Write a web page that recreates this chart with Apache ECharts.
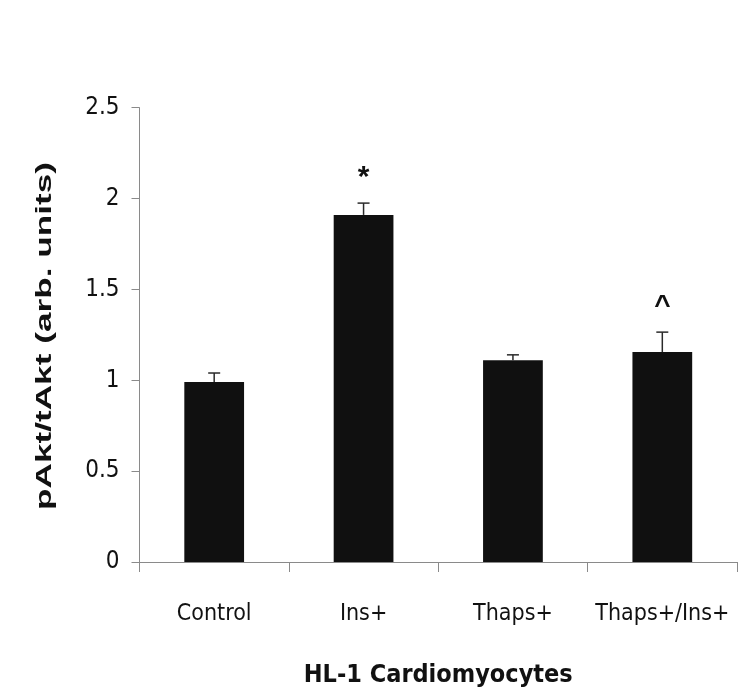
<!DOCTYPE html>
<html>
<head>
<meta charset="utf-8">
<script src="https://cdn.jsdelivr.net/npm/echarts@6/dist/echarts.min.js"></script>
<style>
  html, body { margin: 0; padding: 0; background: #ffffff; }
  #chart { width: 739px; height: 693px; }
</style>
</head>
<body>
<div id="chart"></div>
<script>
// pAkt/tAkt ratio in HL-1 cardiomyocytes, mean with upper SEM bar
const categories = ['Control', 'Ins+', 'Thaps+', 'Thaps+/Ins+'];
const means = [0.99, 1.91, 1.11, 1.155];
const errors = [0.05, 0.065, 0.03, 0.11];
const marks = ['', '*', '', '^'];
const yMin = 0;
const yMax = 2.5;
const yStep = 0.5;

const narrow = "'Liberation Sans Narrow', 'DejaVu Sans Condensed', 'Liberation Sans', sans-serif";
const ink = '#111111';

const chart = echarts.init(document.getElementById('chart'), null, { renderer: 'canvas' });

chart.setOption({
  backgroundColor: '#ffffff',
  animation: false,
  grid: { left: 139.5, right: 2, top: 107.7, bottom: 124.3, containLabel: false },
  xAxis: {
    type: 'category',
    data: categories,
    boundaryGap: true,
    axisLine: { show: true, lineStyle: { color: '#8a8a8a', width: 1 } },
    axisTick: { show: true, interval: 0, length: 10, lineStyle: { color: '#8a8a8a', width: 1 } },
    axisLabel: { interval: 0, color: ink, fontFamily: narrow, fontSize: 23, margin: 41 },
    name: 'HL-1 Cardiomyocytes',
    nameLocation: 'middle',
    nameGap: 101,
    nameTextStyle: { color: ink, fontFamily: narrow, fontWeight: 'bold', fontSize: 25 }
  },
  yAxis: {
    type: 'value',
    min: yMin,
    max: yMax,
    interval: yStep,
    splitLine: { show: false },
    axisLine: { show: true, lineStyle: { color: '#8a8a8a', width: 1 } },
    axisTick: { show: true, length: 8, lineStyle: { color: '#8a8a8a', width: 1 } },
    axisLabel: { color: ink, fontFamily: narrow, fontSize: 24, margin: 20 }
  },
  graphic: [{
    type: 'text',
    x: 45,
    y: 336,
    rotation: Math.PI / 2,
    scaleX: 1.6,
    style: {
      text: 'pAkt/tAkt (arb. units)',
      font: "bold 22px 'Liberation Sans', Arial, sans-serif",
      fill: ink,
      textAlign: 'center',
      textVerticalAlign: 'middle'
    }
  }],
  series: [
    {
      type: 'bar',
      data: means,
      barWidth: '40%',
      itemStyle: { color: '#101010' },
      z: 2
    },
    {
      type: 'custom',
      z: 3,
      data: categories.map((c, i) => [i, means[i], errors[i]]),
      renderItem: function (params, api) {
        const i = api.value(0);
        const base = api.coord([i, api.value(1)]);
        const top = api.coord([i, api.value(1) + api.value(2)]);
        const cap = 6;
        const children = [
          { type: 'line', shape: { x1: base[0], y1: base[1], x2: top[0], y2: top[1] },
            style: { stroke: '#2a2a2a', lineWidth: 1.5 } },
          { type: 'line', shape: { x1: top[0] - cap, y1: top[1], x2: top[0] + cap, y2: top[1] },
            style: { stroke: '#2a2a2a', lineWidth: 1.5 } }
        ];
        const m = marks[params.dataIndex];
        if (m) {
          const isStar = m === '*';
          children.push({
            type: 'text',
            x: top[0],
            y: top[1] - (isStar ? 25 : 26),
            style: {
              text: m,
              font: (isStar ? "bold 30px" : "bold 28px") + " 'Liberation Sans', Arial, sans-serif",
              fill: ink,
              textAlign: 'center',
              textVerticalAlign: 'middle'
            }
          });
        }
        return { type: 'group', children: children };
      }
    }
  ]
});
</script>
</body>
</html>
